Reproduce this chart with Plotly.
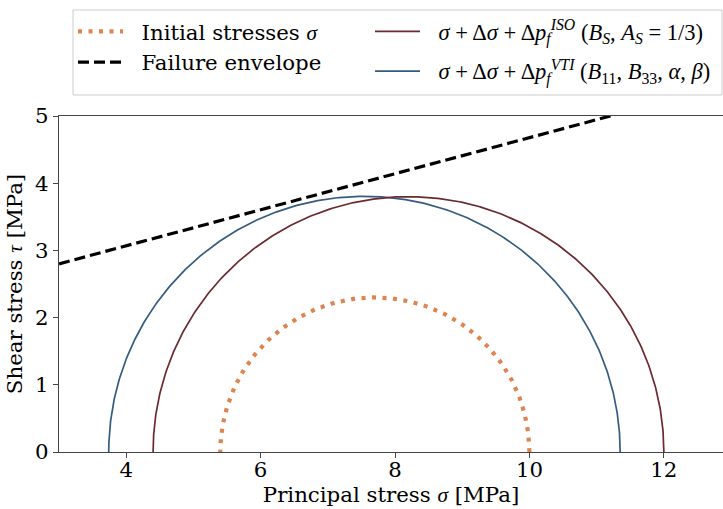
import numpy as np
import plotly.graph_objects as go

# ---- data ----
circle_names = ["Initial stresses", "ISO", "VTI"]
sigma3 = [5.40, 4.40, 3.74]    # minimum principal stress [MPa]
sigma1 = [10.00, 12.00, 11.35]  # maximum principal stress [MPa]

env_sigma = [3.0, 12.88]   # failure envelope endpoints [MPa]
env_tau = [2.80, 5.45]

x_ticks = [4, 6, 8, 10, 12]
y_ticks = [0, 1, 2, 3, 4, 5]

C_INIT = "#dd8452"
C_ISO = "#6b2a2f"
C_VTI = "#355c7f"

SERIF = "DejaVu Serif"
MATH = "Liberation Serif"
FS = 21.3
MFS = 22.5
GAP = "\u00a0\u00a0"

W, H = 723, 509
ML, MR, MT, MB = 59, 0, 116, 57
PW, PH = W - ML - MR, H - MT - MB


def px_x(px):
    return (px - ML) / PW


def px_y(py):
    return (H - MB - py) / PH


def semicircle(s3, s1, n=400):
    c = 0.5 * (s1 + s3)
    r = 0.5 * (s1 - s3)
    t = np.linspace(0, np.pi, n)
    return c + r * np.cos(t), r * np.sin(t)


def m(s, size=None):
    sz = f";font-size:{size}px" if size else ""
    return f'<span style="font-family:{MATH}{sz}">{s}</span>'


lbl_init = GAP + "Initial stresses " + m("<i>σ</i>")
lbl_env = GAP + "Failure envelope"
lbl_iso = GAP + m("<i>σ</i> + Δ<i>σ</i> + Δ<i>p</i><sub><i>f</i></sub><sup><i>ISO</i></sup> "
                  "(<i>B</i><sub><i>S</i></sub>, <i>A</i><sub><i>S</i></sub> = 1/3)", MFS)
lbl_vti = GAP + m("<i>σ</i> + Δ<i>σ</i> + Δ<i>p</i><sub><i>f</i></sub><sup><i>VTI</i></sup> "
                  "(<i>B</i><sub>11</sub>, <i>B</i><sub>33</sub>, <i>α</i>, <i>β</i>)", MFS)

fig = go.Figure()

x, y = semicircle(sigma3[2], sigma1[2])
fig.add_trace(go.Scatter(x=x, y=y, mode="lines", name=lbl_vti, legend="legend2", legendrank=2,
                         legendgroup="vti", line=dict(color=C_VTI, width=1.7)))
x, y = semicircle(sigma3[1], sigma1[1])
fig.add_trace(go.Scatter(x=x, y=y, mode="lines", name=lbl_iso, legend="legend2", legendrank=1,
                         legendgroup="iso", line=dict(color=C_ISO, width=1.7)))
x, y = semicircle(sigma3[0], sigma1[0])
fig.add_trace(go.Scatter(x=x, y=y, mode="lines", name=lbl_init, legend="legend", legendrank=1,
                         line=dict(color=C_INIT, width=4.2, dash="4px,6.5px")))
fig.add_trace(go.Scatter(x=env_sigma, y=env_tau, mode="lines", name=lbl_env, legend="legend",
                         legendrank=2,
                         line=dict(color="black", width=3.2, dash="11px,5px")))

axis_common = dict(
    showgrid=False, zeroline=False, showline=True, linecolor="#444", linewidth=1.2,
    ticks="outside", ticklen=5, tickwidth=1.2, tickcolor="#444",
    tickfont=dict(family=SERIF, size=FS, color="black"),
)

legend_common = dict(
    orientation="v", yanchor="top", xanchor="left", itemwidth=45,
    borderwidth=0, bgcolor="rgba(0,0,0,0)",
    font=dict(family=SERIF, size=FS, color="black"),
)

fig.update_layout(
    width=W, height=H,
    margin=dict(l=ML, r=MR, t=MT, b=MB),
    paper_bgcolor="white", plot_bgcolor="white",
    font=dict(family=SERIF, size=FS, color="black"),
    xaxis=dict(range=[3.0, 12.88], tickvals=x_ticks, mirror=True, ticklabelstandoff=-7,
               title=dict(text="Principal stress " + m("<i>σ</i>") + " [MPa]", standoff=0,
                          font=dict(family=SERIF, size=FS)),
               **axis_common),
    yaxis=dict(range=[0, 5], tickvals=y_ticks,
               title=dict(text="Shear stress " + m("<i>τ</i>") + " [MPa]", standoff=6,
                          font=dict(family=SERIF, size=FS)),
               **axis_common),
    legend=dict(x=px_x(73), y=px_y(11), tracegroupgap=0, traceorder="normal", **legend_common),
    legend2=dict(x=px_x(370), y=px_y(11), tracegroupgap=9, traceorder="grouped", **legend_common),
    showlegend=True,
    shapes=[dict(type="rect", xref="paper", yref="paper",
                 x0=px_x(73), x1=px_x(722), y0=px_y(95), y1=px_y(10),
                 line=dict(color="#cccccc", width=1), fillcolor="rgba(0,0,0,0)", layer="below")],
)

fig.write_html("out.html")
